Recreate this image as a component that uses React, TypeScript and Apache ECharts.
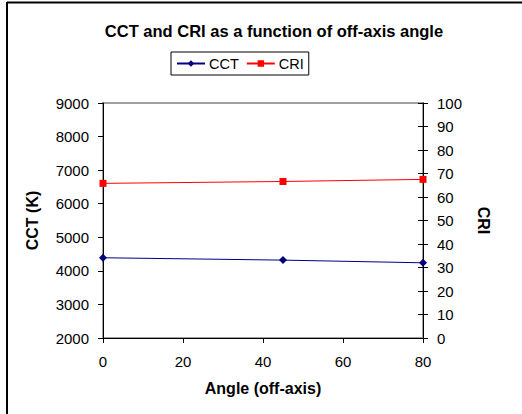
import React, { useEffect, useRef } from "react";
import * as echarts from "echarts";

const angles = [0, 45, 80];
const cctValues = [4390, 4320, 4240];
const criValues = [65.8, 66.6, 67.5];
const titleText = "CCT and CRI as a function of off-axis angle";

export default function App() {
  const ref = useRef<HTMLDivElement>(null);
  useEffect(() => {
    const chart = echarts.init(ref.current!, undefined, { renderer: "svg" });
    const font = "'Liberation Sans', Arial, sans-serif";
    const plain = (v: number) => String(v);
    chart.setOption({
      animation: false,
      backgroundColor: "#ffffff",
      textStyle: { fontFamily: font },
      title: {
        text: titleText,
        left: 269,
        textAlign: "center",
        top: 17,
        textStyle: { fontSize: 16.5, fontWeight: "bold", color: "#000", fontFamily: font },
      },
      legend: {
        left: 171,
        top: 52,
        padding: [4, 5, 4, 5],
        borderColor: "#000",
        borderWidth: 1,
        itemWidth: 28,
        itemHeight: 8,
        itemGap: 7,
        textStyle: { fontSize: 14.5, color: "#000", fontFamily: font, padding: [0, 0, 0, -1] },
        data: ["CCT", "CRI"],
      },
      grid: {
        left: 103,
        right: 99,
        top: 103,
        bottom: 76,
        show: true,
        borderColor: "#a0a0a0",
        borderWidth: 2,
      },
      xAxis: {
        type: "value",
        min: 0,
        max: 80,
        interval: 20,
        name: "Angle (off-axis)",
        nameLocation: "middle",
        nameGap: 42,
        nameTextStyle: { fontSize: 16, fontWeight: "bold", color: "#000", fontFamily: font },
        axisLine: { lineStyle: { color: "#000", width: 1 } },
        axisTick: { lineStyle: { color: "#000" }, length: 5 },
        axisLabel: { fontSize: 15, color: "#000", margin: 16, fontFamily: font, formatter: plain },
        splitLine: { show: false },
      },
      yAxis: [
        {
          type: "value",
          min: 2000,
          max: 9000,
          interval: 1000,
          position: "left",
          name: "CCT (K)",
          nameLocation: "middle",
          nameRotate: 90,
          nameGap: 63,
          nameTextStyle: { fontSize: 16, fontWeight: "bold", color: "#000", fontFamily: font },
          axisLine: { show: true, lineStyle: { color: "#000", width: 1 } },
          axisTick: { show: true, lineStyle: { color: "#000" }, length: 5 },
          axisLabel: { fontSize: 15, color: "#000", margin: 14, fontFamily: font, formatter: plain },
          splitLine: { show: false },
        },
        {
          type: "value",
          min: 0,
          max: 100,
          interval: 10,
          position: "right",
          name: "CRI",
          nameLocation: "middle",
          nameRotate: -90,
          nameGap: 52,
          nameTextStyle: { fontSize: 16, fontWeight: "bold", color: "#000", fontFamily: font },
          axisLine: { show: true, lineStyle: { color: "#000", width: 1 } },
          axisTick: { show: true, lineStyle: { color: "#000" }, length: 5 },
          axisLabel: { fontSize: 15, color: "#000", margin: 14, fontFamily: font, formatter: plain },
          splitLine: { show: false },
        },
        {
          type: "value",
          min: 0,
          max: 100,
          interval: 10,
          position: "right",
          axisLine: { show: false },
          axisTick: { show: true, inside: true, lineStyle: { color: "#000" }, length: 5 },
          axisLabel: { show: false },
          splitLine: { show: false },
        },
      ],
      series: [
        {
          name: "CCT",
          type: "line",
          yAxisIndex: 0,
          data: angles.map((a, i) => [a, cctValues[i]]),
          symbol: "diamond",
          symbolSize: 8,
          lineStyle: { color: "#000080", width: 1 },
          itemStyle: { color: "#000080" },
        },
        {
          name: "CRI",
          type: "line",
          yAxisIndex: 1,
          data: angles.map((a, i) => [a, criValues[i]]),
          symbol: "rect",
          symbolSize: 7,
          lineStyle: { color: "#ff0000", width: 1 },
          itemStyle: { color: "#ff0000" },
        },
      ],
      graphic: [
        { type: "line", shape: { x1: 7, y1: 2.5, x2: 522, y2: 2.5 }, style: { stroke: "#000", lineWidth: 2 } },
        { type: "line", shape: { x1: 7, y1: 2, x2: 7, y2: 414 }, style: { stroke: "#000", lineWidth: 2 } },
      ],
    });
    return () => chart.dispose();
  }, []);
  return (
    <div
      ref={ref}
      style={{ position: "fixed", left: 0, top: 0, width: 522, height: 414 }}
    />
  );
}
